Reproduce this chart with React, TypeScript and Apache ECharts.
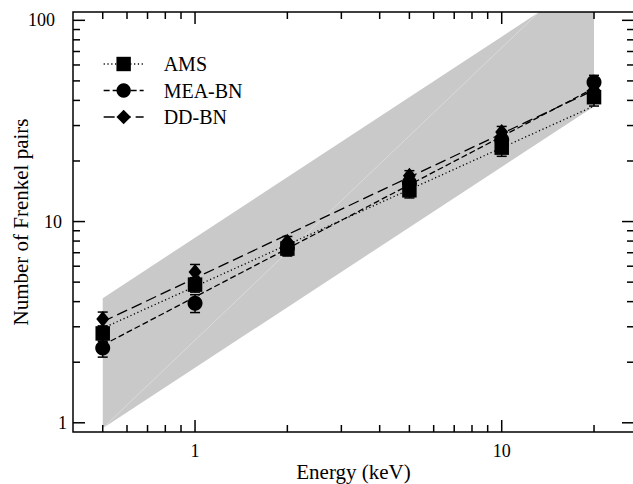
import React, { useEffect, useRef } from "react";
import * as echarts from "echarts";

// ---- data ----
const energies = [0.5, 1, 2, 5, 10, 20];
const amsValues = [2.78, 4.86, 7.34, 14.3, 23.3, 41.5];
const meaValues = [2.35, 3.93, 7.4, 15.6, 25.5, 49.3];
const ddValues = [3.28, 5.62, 7.93, 16.9, 27.9, 45];
const amsErr = [0.25, 0.4, 0.6, 1.2, 2.2, 4.0];
const meaErr = [0.23, 0.4, 0.6, 1.2, 2.0, 4.0];
const ddErr = [0.27, 0.5, 0.5, 1.0, 1.8, 3.5];

// power-law fit lines (end points)
const fitEnergies = [0.5, 20];
const amsFit = [2.95, 37.5];
const meaFit = [2.43, 46];
const ddFit = [3.18, 45];

// shaded band
const bandEnergies = [0.5, 20];
const bandLower = [0.94, 37.3];
const bandUpper = [4.16, 166];

// axes
const xRange = [0.4, 27];
const yRange = [0.9, 110];
const xTickLabels = [1, 10];
const yTickLabels = [1, 10, 100];
const xMajorTicks = [1, 10];
const xMinorTicks = [0.5, 0.6, 0.7, 0.8, 0.9, 2, 3, 4, 5, 6, 7, 8, 9, 20];
const yMajorTicks = [1, 10, 100];
const yMinorTicks = [2, 3, 4, 5, 6, 7, 8, 9, 20, 30, 40, 50, 60, 70, 80, 90];

const seriesNames = ["AMS", "MEA-BN", "DD-BN"];

const FONT = "Liberation Serif";

const near = (v: number, t: number) => Math.abs(v - t) / t < 1e-6;

export default function App() {
  const ref = useRef<HTMLDivElement>(null);

  useEffect(() => {
    const chart = echarts.init(ref.current!, null, { renderer: "svg" });

    const errorSeries = (name: string, vals: number[], errs: number[]) => ({
      type: "custom",
      name,
      coordinateSystem: "cartesian2d",
      encode: { x: 0, y: 1 },
      data: energies.map((e, i) => [e, vals[i], errs[i]]),
      clip: false,
      silent: true,
      renderItem: (params: any, api: any) => {
        const x = api.value(0);
        const y = api.value(1);
        const err = api.value(2);
        const p1 = api.coord([x, y + err]);
        const p2 = api.coord([x, y - err]);
        const cap = 5;
        const st = { stroke: "#000", lineWidth: 1.5 };
        return {
          type: "group",
          children: [
            { type: "line", shape: { x1: p1[0], y1: p1[1], x2: p2[0], y2: p2[1] }, style: st },
            { type: "line", shape: { x1: p1[0] - cap, y1: p1[1], x2: p1[0] + cap, y2: p1[1] }, style: st },
            { type: "line", shape: { x1: p2[0] - cap, y1: p2[1], x2: p2[0] + cap, y2: p2[1] }, style: st },
          ],
        };
      },
    });

    const fitSeries = (name: string, vals: number[], symbol: string, dash: number[]) => ({
      type: "line",
      name,
      data: fitEnergies.map((e, i) => [e, vals[i]]),
      symbol,
      showSymbol: false,
      symbolSize: 14,
      lineStyle: { color: "#000", width: 1.3, type: dash },
      itemStyle: { color: "#000", opacity: 1 },
      silent: true,
    });

    const markerSeries = (name: string, vals: number[], symbol: string, size: any) => ({
      type: "scatter",
      name,
      data: energies.map((e, i) => [e, vals[i]]),
      symbol,
      symbolSize: size,
      itemStyle: { color: "#000", opacity: 1 },
      silent: true,
    });

    const option: any = {
      animation: false,
      backgroundColor: "#fff",
      grid: {
        left: 73,
        top: 12,
        right: -1,
        bottom: 52,
        containLabel: false,
        outerBoundsMode: "none",
      },
      legend: {
        data: seriesNames,
        orient: "vertical",
        left: 103,
        top: 54,
        padding: 0,
        itemWidth: 40,
        itemHeight: 18,
        itemGap: 6.5,
        selectedMode: false,
        lineStyle: { width: 1.3 },
        textStyle: { fontFamily: FONT, fontSize: 20, color: "#000", padding: [0, 0, 0, 15] },
      },
      xAxis: {
        type: "log",
        logBase: 10,
        min: xRange[0],
        max: xRange[1],
        name: "Energy (keV)",
        nameLocation: "middle",
        nameGap: 29,
        nameMoveOverlap: false,
        nameTextStyle: { fontFamily: FONT, fontSize: 21, color: "#000" },
        axisLine: { show: false },
        axisTick: { show: false },
        splitLine: { show: false },
        axisLabel: {
          fontFamily: FONT,
          fontSize: 18,
          color: "#000",
          margin: 10,
          formatter: (v: number) => {
            const t = xTickLabels.find((l) => near(v, l));
            return t === undefined ? "" : String(t);
          },
        },
      },
      yAxis: {
        type: "log",
        logBase: 10,
        min: yRange[0],
        max: yRange[1],
        name: "Number of Frenkel pairs",
        nameLocation: "middle",
        nameGap: 42,
        nameMoveOverlap: false,
        nameRotate: 90,
        nameTextStyle: { fontFamily: FONT, fontSize: 21, color: "#000" },
        axisLine: { show: false },
        axisTick: { show: false },
        splitLine: { show: false },
        axisLabel: {
          fontFamily: FONT,
          fontSize: 18,
          color: "#000",
          margin: 6,
          formatter: (v: number) => {
            const idx = yTickLabels.findIndex((l) => near(v, l));
            return idx < 0 ? "" : `{p${idx}|${yTickLabels[idx]}}`;
          },
          rich: {
            p0: { fontFamily: FONT, fontSize: 18, color: "#000", padding: [0, 0, 0, 0] },
            p1: { fontFamily: FONT, fontSize: 18, color: "#000", padding: [0, 5, 0, 0] },
            p2: { fontFamily: FONT, fontSize: 18, color: "#000", padding: [0, 12, 0, 0] },
          },
        },
      },
      series: [
        {
          type: "custom",
          name: "band",
          coordinateSystem: "cartesian2d",
          data: [[bandEnergies[0], bandLower[0]]],
          clip: true,
          silent: true,
          renderItem: (params: any, api: any) => {
            const cs = params.coordSys;
            const l0 = api.coord([bandEnergies[0], bandLower[0]]);
            const l1 = api.coord([bandEnergies[1], bandLower[1]]);
            const u1 = api.coord([bandEnergies[1], bandUpper[1]]);
            const u0 = api.coord([bandEnergies[0], bandUpper[0]]);
            let t = (cs.y - u0[1]) / (u1[1] - u0[1]);
            if (t > 1) t = 1;
            const sx = u0[0] + t * (u1[0] - u0[0]);
            const sy = u0[1] + t * (u1[1] - u0[1]);
            return {
              type: "group",
              children: [
                { type: "polygon", shape: { points: [l0, l1, u1, u0] }, style: { fill: "#c9c9c9" } },
                {
                  type: "line",
                  shape: { x1: l0[0], y1: l0[1], x2: sx, y2: sy },
                  style: { stroke: "#dedede", lineWidth: 0.8 },
                },
              ],
            };
          },
        },
        fitSeries("AMS", amsFit, "rect", [1.2, 2.6]),
        fitSeries("MEA-BN", meaFit, "circle", [6, 3]),
        fitSeries("DD-BN", ddFit, "diamond", [11, 5]),
        errorSeries("errMEA", meaValues, meaErr),
        errorSeries("errDD", ddValues, ddErr),
        errorSeries("errAMS", amsValues, amsErr),
        markerSeries("ptsMEA", meaValues, "circle", 15),
        markerSeries("ptsDD", ddValues, "diamond", [13, 16]),
        markerSeries("ptsAMS", amsValues, "rect", 14.5),
        {
          type: "custom",
          name: "frame",
          coordinateSystem: "cartesian2d",
          data: [[xRange[0], yRange[0]]],
          clip: false,
          silent: true,
          z: 10,
          renderItem: (params: any, api: any) => {
            const cs = params.coordSys;
            const left = cs.x;
            const right = cs.x + cs.width;
            const top = cs.y;
            const bottom = cs.y + cs.height;
            const st = { stroke: "#000", lineWidth: 1.5 };
            const children: any[] = [];
            const ln = (x1: number, y1: number, x2: number, y2: number) =>
              children.push({ type: "line", shape: { x1, y1, x2, y2 }, style: st });
            const xt = (v: number, len: number) => {
              const px = api.coord([v, yRange[0]])[0];
              ln(px, bottom, px, bottom - len);
              ln(px, top, px, top + len);
            };
            const yt = (v: number, len: number) => {
              const py = api.coord([xRange[0], v])[1];
              ln(left, py, left + len, py);
              ln(right, py, right - len, py);
            };
            xMajorTicks.forEach((v) => xt(v, 12));
            xMinorTicks.forEach((v) => xt(v, 7));
            yMajorTicks.forEach((v) => yt(v, 12));
            yMinorTicks.forEach((v) => yt(v, 7));
            children.push({
              type: "rect",
              shape: { x: left, y: top, width: cs.width, height: cs.height },
              style: { fill: "none", stroke: "#000", lineWidth: 1.5 },
            });
            return { type: "group", children };
          },
        },
      ],
    };

    chart.setOption(option);
    return () => chart.dispose();
  }, []);

  return (
    <div
      ref={ref}
      style={{ position: "fixed", left: 0, top: 0, width: 633, height: 484, background: "#fff" }}
    />
  );
}
